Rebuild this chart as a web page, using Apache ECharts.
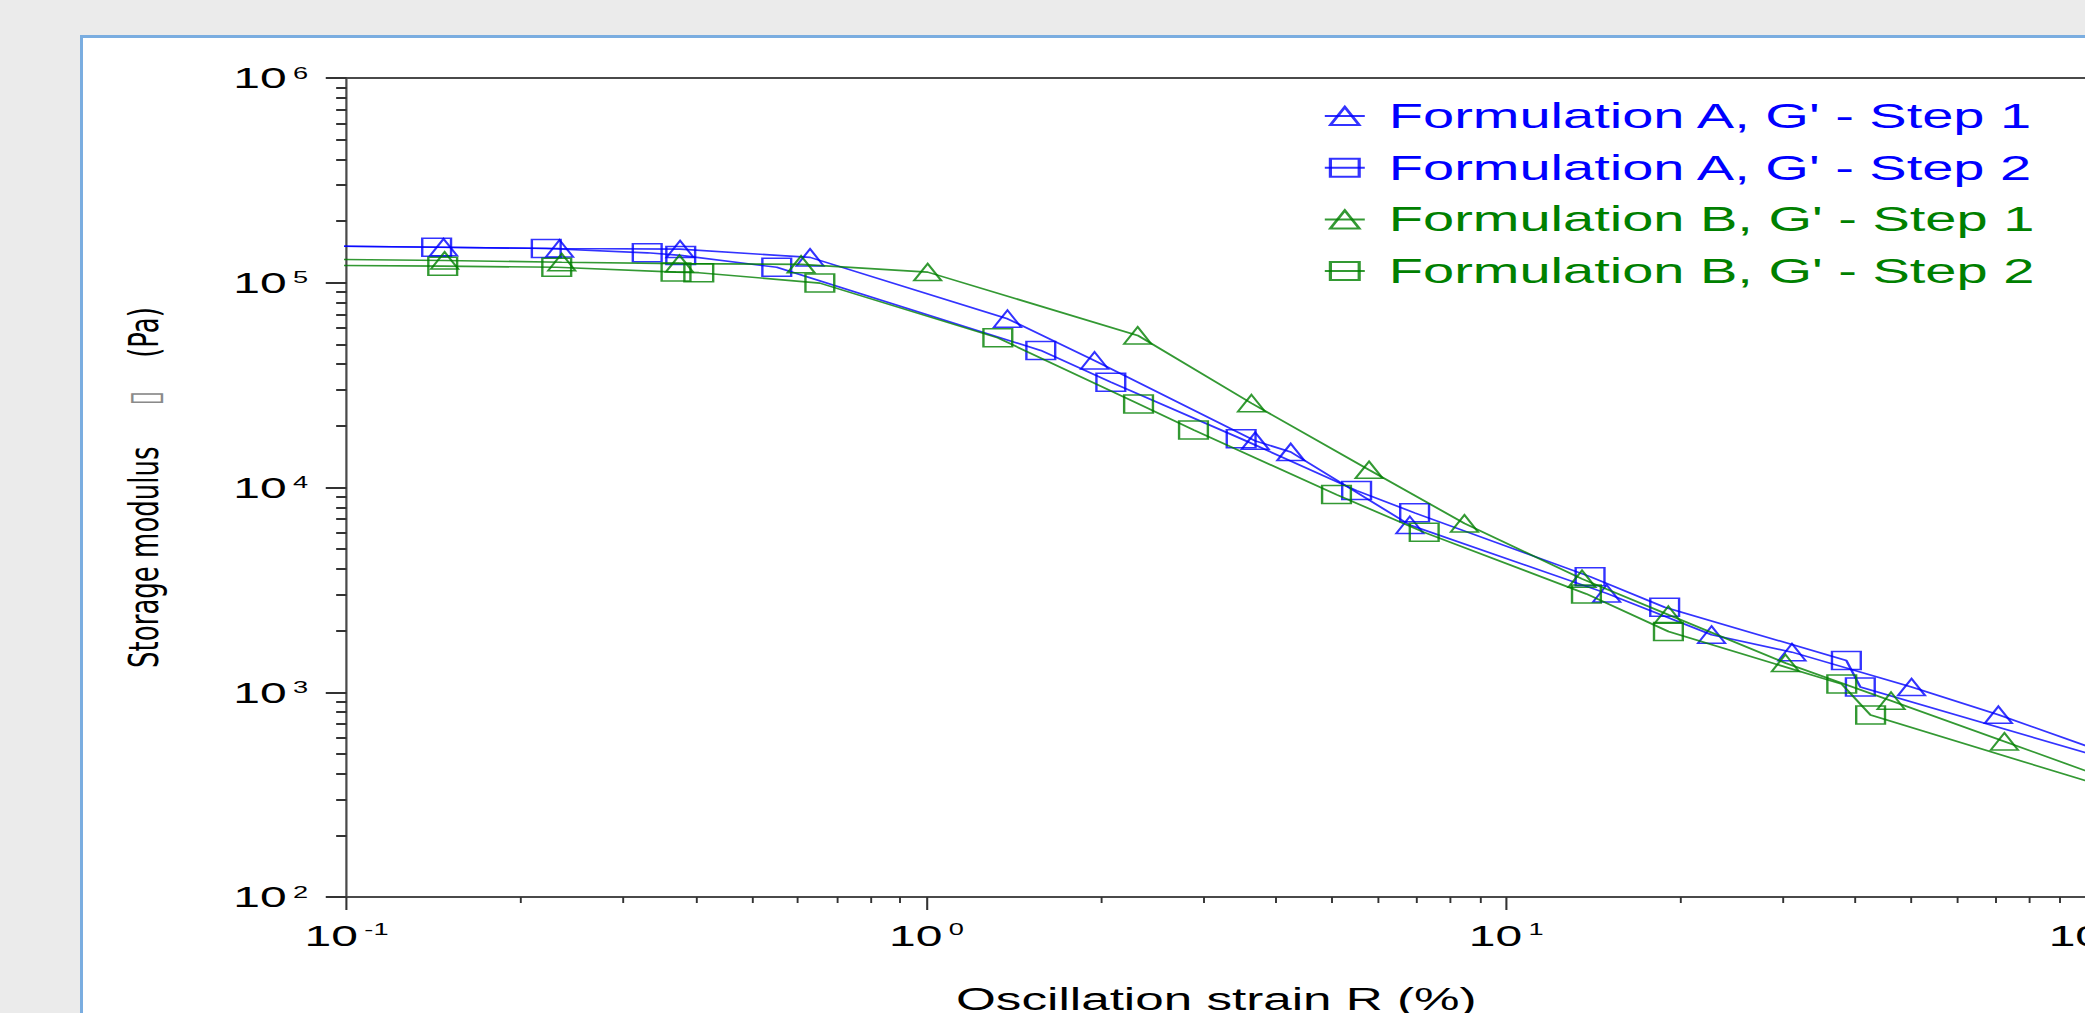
<!DOCTYPE html>
<html>
<head>
<meta charset="utf-8">
<script src="https://cdn.jsdelivr.net/npm/echarts@6/dist/echarts.min.js"></script>
<style>
html,body{margin:0;padding:0;width:2085px;height:1013px;overflow:hidden;background:#ebebeb;}
#panel{position:absolute;left:80px;top:35px;width:2100px;height:1100px;background:#fff;border-left:3px solid #7aade0;border-top:3px solid #7aade0;}
#chart{position:absolute;left:0;top:0;width:1450px;height:1100px;transform:scaleX(1.6);transform-origin:0 0;}
</style>
</head>
<body>
<div id="panel"></div>
<div id="chart"></div>
<script>
// ---- tick values ----
const xMajorTicks = [0.1, 1, 10, 100];
const yMajorTicks = [1e2, 1e3, 1e4, 1e5, 1e6];
const minorMultipliers = [2, 3, 4, 5, 6, 7, 8, 9];

// ---- series names / colours ----
const seriesNames = [
  "Formulation A, G' - Step 1",
  "Formulation A, G' - Step 2",
  "Formulation B, G' - Step 1",
  "Formulation B, G' - Step 2"
];
const seriesColors = ['#0000ff', '#0000ff', '#008000', '#008000'];
const seriesLineColors = ['rgba(0,0,255,0.8)', 'rgba(0,0,255,0.8)', 'rgba(0,128,0,0.8)', 'rgba(0,128,0,0.8)'];
const seriesSymbols = ['triangle', 'rect', 'triangle', 'rect'];

// ---- data (strain %, storage modulus Pa) ----
const strainA1 = [0.093, 0.147, 0.233, 0.376, 0.630, 1.38, 1.95, 3.69, 4.25, 6.82, 14.9, 22.6, 31.1, 50.0, 70.6, 115];
const modulusA1 = [1.51e5, 1.49e5, 1.47e5, 1.46e5, 1.33e5, 6.67e4, 4.17e4, 1.69e4, 1.49e4, 6.56e3, 3.04e3, 1.91e3, 1.57e3, 1.06e3, 776, 476];

const strainA2 = [0.093, 0.143, 0.221, 0.330, 0.377, 0.552, 1.575, 2.08, 3.49, 5.52, 6.95, 13.95, 18.76, 38.6, 40.8, 129.6];
const modulusA2 = [1.51e5, 1.49e5, 1.47e5, 1.40e5, 1.36e5, 1.19e5, 4.67e4, 3.27e4, 1.73e4, 9.66e3, 7.52e3, 3.67e3, 2.60e3, 1.43e3, 1.06e3, 408];

const strainB1 = [0.093, 0.1476, 0.235, 0.375, 0.608, 1.005, 2.314, 3.636, 5.80, 8.47, 13.51, 19.04, 30.3, 46.1, 72.3, 115];
const modulusB1 = [1.30e5, 1.285e5, 1.26e5, 1.24e5, 1.23e5, 1.127e5, 5.53e4, 2.58e4, 1.22e4, 6.68e3, 3.58e3, 2.39e3, 1.39e3, 909, 575, 358];

const strainB2 = [0.093, 0.1465, 0.2304, 0.370, 0.405, 0.655, 1.328, 2.322, 2.888, 5.096, 7.22, 13.75, 19.04, 37.9, 42.5, 129.6];
const modulusB2 = [1.215e5, 1.205e5, 1.19e5, 1.127e5, 1.12e5, 9.96e4, 5.38e4, 2.56e4, 1.91e4, 9.23e3, 6.04e3, 3.02e3, 1.98e3, 1.096e3, 774, 295];

const strains = [strainA1, strainA2, strainB1, strainB2];
const moduli = [modulusA1, modulusA2, modulusB1, modulusB2];

// ---- build ----
function minorOf(majors) {
  const out = [];
  for (let i = 0; i < majors.length - 1; i++) {
    minorMultipliers.forEach(m => out.push(majors[i] * m));
  }
  return out;
}
const xMinorTicks = minorOf(xMajorTicks);
const yMinorTicks = minorOf(yMajorTicks);

const tickFont = 'Liberation Sans, Arial, sans-serif';
const powRich = {
  b: { fontSize: 30, fontFamily: tickFont, color: '#000', lineHeight: 32 },
  e: { fontSize: 17, fontFamily: tickFont, color: '#000', lineHeight: 17, verticalAlign: 'top', padding: [2, 0, 0, 4] }
};
const powLabel = v => '{b|10}{e|' + Math.round(Math.log10(v)) + '}';

const axisColor = '#4a4a4a';

const chart = echarts.init(document.getElementById('chart'), null, { renderer: 'svg' });

const option = {
  animation: false,
  backgroundColor: 'transparent',
  grid: {
    left: 216.6, top: 78, width: 1087.2, height: 819,
    containLabel: false, outerBoundsMode: 'none', show: false
  },
  legend: {
    orient: 'vertical',
    left: 822,
    top: 92,
    padding: 5,
    itemWidth: 25,
    itemHeight: 22.5,
    itemGap: 13.7,
    selectedMode: false,
    data: seriesNames.map((n, i) => ({ name: n, textStyle: { color: seriesColors[i] } })),
    textStyle: { fontFamily: tickFont, fontSize: 35, lineHeight: 38, padding: [0, 0, 0, 10] }
  },
  xAxis: [
    {
      type: 'log', logBase: 10, min: 0.1, max: 100, position: 'bottom',
      name: 'Oscillation strain R (%)',
      nameLocation: 'middle', nameGap: 86,
      nameTextStyle: { fontFamily: tickFont, fontSize: 32, color: '#000' },
      axisLine: { show: true, onZero: false, lineStyle: { color: axisColor, width: 2 } },
      axisTick: { show: true, inside: false, length: 13, customValues: xMajorTicks, lineStyle: { color: '#333', width: 1.3 } },
      axisLabel: { show: true, customValues: xMajorTicks, formatter: powLabel, margin: 22, rich: powRich },
      minorTick: { show: false },
      splitLine: { show: false }
    },
    {
      type: 'log', logBase: 10, min: 0.1, max: 100, position: 'bottom',
      axisLine: { show: false },
      axisTick: { show: true, inside: false, length: 6, customValues: xMinorTicks, lineStyle: { color: '#333', width: 1.2 } },
      axisLabel: { show: false },
      splitLine: { show: false }
    },
    {
      type: 'log', logBase: 10, min: 0.1, max: 100, position: 'top',
      axisLine: { show: true, onZero: false, lineStyle: { color: axisColor, width: 2 } },
      axisTick: { show: false },
      axisLabel: { show: false },
      splitLine: { show: false }
    }
  ],
  yAxis: [
    {
      type: 'log', logBase: 10, min: 1e2, max: 1e6, position: 'left',
      name: 'Storage modulus\u00a0\u00a0\u00a0\u00a0\u00a0{g|\u25AF}\u00a0\u00a0\u00a0\u00a0(Pa)',
      nameLocation: 'middle', nameGap: 114, nameRotate: 90,
      nameTextStyle: {
        fontFamily: 'DejaVu Sans', fontSize: 26, color: '#000',
        rich: { g: { fontFamily: 'DejaVu Sans', fontSize: 26, color: '#8a8a8a' } }
      },
      axisLine: { show: true, onZero: false, lineStyle: { color: axisColor, width: 1.4 } },
      axisTick: { show: true, inside: false, length: 13, customValues: yMajorTicks, lineStyle: { color: '#333', width: 2 } },
      axisLabel: { show: true, customValues: yMajorTicks, formatter: powLabel, margin: 24, rich: powRich },
      splitLine: { show: false }
    },
    {
      type: 'log', logBase: 10, min: 1e2, max: 1e6, position: 'left',
      axisLine: { show: false },
      axisTick: { show: true, inside: false, length: 6.5, customValues: yMinorTicks, lineStyle: { color: '#333', width: 2 } },
      axisLabel: { show: false },
      splitLine: { show: false }
    }
  ],
  series: seriesNames.map((name, i) => ({
    name: name,
    type: 'line',
    xAxisIndex: 0,
    yAxisIndex: 0,
    data: strains[i].map((x, k) => [x, moduli[i][k]]),
    symbol: seriesSymbols[i],
    symbolSize: seriesSymbols[i] === 'triangle' ? [17, 17] : [18, 18],
    clip: true,
    lineStyle: { color: seriesLineColors[i], width: 1.6 },
    itemStyle: { color: 'rgba(0,0,0,0)', borderColor: seriesLineColors[i], borderWidth: 1.5 },
    emphasis: { disabled: true },
    z: 3 + i
  }))
};

chart.setOption(option);
</script>
</body>
</html>
